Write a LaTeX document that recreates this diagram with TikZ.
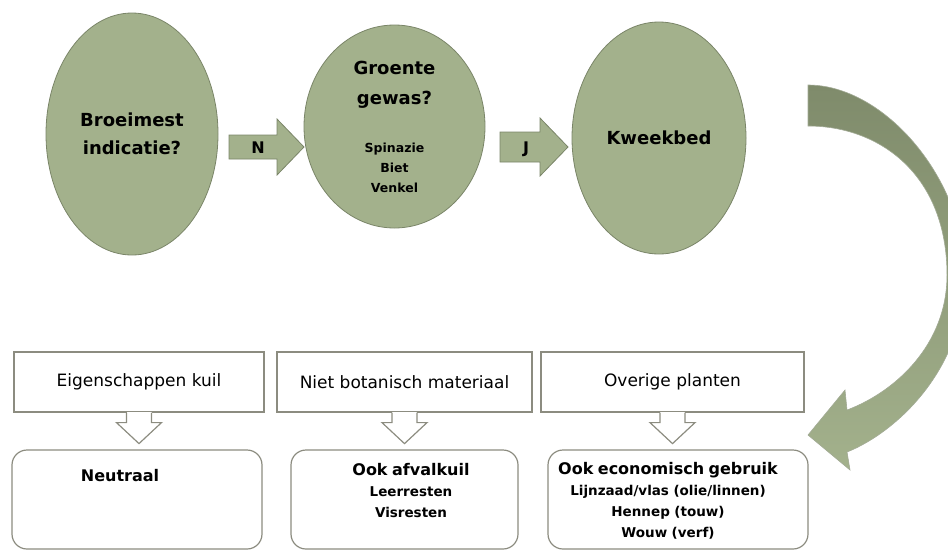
\documentclass[tikz,border=0pt]{standalone}
\usepackage{fontspec}
\setmainfont{DejaVu Sans}
\usepackage{xcolor}
\definecolor{sage}{HTML}{A3B18C}
\definecolor{sagedark}{HTML}{7F8B6B}
\definecolor{sageline}{HTML}{7A8568}
\definecolor{boxline}{HTML}{8C8C80}
\usetikzlibrary{shapes.geometric, calc, positioning}
\tikzset{
    bubble/.style = {
      ellipse,
      draw = sageline,
      fill = sage,
      line width = 0.8pt,
      inner sep = 0pt,
      align = center,
      font = \fontsize{18}{28}\selectfont\bfseries
    },
    blockarrow/.style = {
      draw = sageline,
      fill = sage,
      line width = 0.8pt
    },
    arrowlabel/.style = {
      font = \fontsize{16}{18}\selectfont\bfseries
    },
    topbox/.style = {
      draw = boxline,
      line width = 1.2pt,
      minimum height = 60pt,
      font = \fontsize{17}{20}\selectfont
    },
    hollow/.style = {
      draw = boxline,
      line width = 1.2pt,
      line join = miter
    },
    resbox/.style = {
      draw = boxline,
      line width = 1.2pt,
      rounded corners = 15pt,
      minimum height = 99pt
    },
    restitle/.style = {
      font = \fontsize{16}{22}\selectfont\bfseries
    },
    reslist/.style = {
      align = center,
      text width = 240pt,
      font = \fontsize{13.5}{21}\selectfont\bfseries
    },
}
\newcommand{\titlefont}{\fontsize{16}{22}\selectfont}

\begin{document}
\begin{tikzpicture}[x=1pt, y=-1pt]
    \useasboundingbox (0,0) rectangle (948,550);

    % vragen
    \node[bubble, minimum width=172, minimum height=242] (broei) at (132,134) {Broeimest\\indicatie?};
    \node[bubble, minimum width=181, minimum height=203, text width=110pt,
          font=\fontsize{18}{30}\selectfont\bfseries] (groente) at (394.5,126.5)
          {Groente\\gewas?\par\vspace{28pt}\fontsize{12.5}{20}\selectfont Spinazie\\Biet\\Venkel\par};
    \node[bubble, minimum width=174, minimum height=232] (kweek) at (659,138) {Kweekbed};

    % N en J
    \coordinate (nt) at (229,147);
    \coordinate (nh) at (304,147);
    \draw[blockarrow] ($(nt)+(0,-12)$) -- ++(48,0) -- ++(0,-16) -- (nh)
          -- ++(-27,28) -- ++(0,-16) -- ($(nt)+(0,12)$) -- cycle;
    \node[arrowlabel] (nee) at (258,148) {N};

    \coordinate (jt) at (500,147);
    \coordinate (jh) at (568,147);
    \draw[blockarrow] ($(jt)+(0,-15)$) -- ++(40,0) -- ++(0,-14) -- (jh)
          -- ++(-28,29) -- ++(0,-14) -- ($(jt)+(0,15)$) -- cycle;
    \node[arrowlabel] (ja) at (526,149) {J};

    % gebogen pijl
    \coordinate (bendstart) at (808,85);
    \coordinate (bendtip) at (808,435);
    \shade[top color=sagedark, middle color=sagedark!60!sage, bottom color=sage,
           draw=sageline!70, line width=0.6pt]
        (bendstart) .. controls (885,85) and (965,180) .. (965,275)
        .. controls (965,370) and (895,433) .. (847,452)
        -- (850,470) -- (bendtip) -- (845,390) -- (847,410)
        .. controls (895,392) and (947,345) .. (947,275)
        .. controls (947,175) and (880,126) .. (808,126) -- cycle;

    % kuil
    \node[topbox, minimum width=250] (eig) at (139,382) {Eigenschappen kuil};
    \node[topbox, minimum width=255] (niet) at (404.5,382) {Niet botanisch materiaal};
    \node[topbox, minimum width=263] (over) at (672.5,382) {Overige planten};

    \node[resbox, minimum width=250] (neutraal) at (137,499.5) {};
    \node[resbox, minimum width=227] (afval) at (404.5,499.5) {};
    \node[resbox, minimum width=260] (econ) at (678,499.5) {};

    \fill[white] ($(eig.south)+(-12.5,-1)$) rectangle ($(eig.south)+(12.5,10)$);
    \draw[hollow] ($(eig.south)+(-12.5,0)$) -- ++(0,10) -- ++(-10,0) -- ($(eig.south)+(0,31)$)
          -- ++(22.5,-21) -- ++(-10,0) -- ++(0,-10);
    \fill[white] ($(niet.south)+(-12.5,-1)$) rectangle ($(niet.south)+(12.5,10)$);
    \draw[hollow] ($(niet.south)+(-12.5,0)$) -- ++(0,10) -- ++(-10,0) -- ($(niet.south)+(0,31)$)
          -- ++(22.5,-21) -- ++(-10,0) -- ++(0,-10);
    \fill[white] ($(over.south)+(-12.5,-1)$) rectangle ($(over.south)+(12.5,10)$);
    \draw[hollow] ($(over.south)+(-12.5,0)$) -- ++(0,10) -- ++(-10,0) -- ($(over.south)+(0,31)$)
          -- ++(22.5,-21) -- ++(-10,0) -- ++(0,-10);

    \node[restitle] (neutxt) at (120,476) {Neutraal};
    \node[reslist] (afvtxt) at (411,491) {{\titlefont Ook afvalkuil\par}Leerresten\\Visresten};
    \node[reslist] (econtxt) at (668,501) {{\titlefont Ook economisch gebruik\par}Lijnzaad/vlas (olie/linnen)\\Hennep (touw)\\Wouw (verf)};
\end{tikzpicture}
\end{document}
